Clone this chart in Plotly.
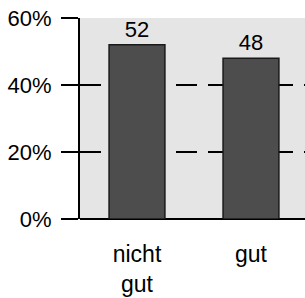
import plotly.graph_objects as go

categories = ["nicht<br>gut", "gut"]
values = [52, 48]
tick_vals = [0, 20, 40, 60]
tick_text = ["0%", "20%", "40%", "60%"]

fig = go.Figure()
fig.add_trace(go.Bar(
    x=categories, y=values, width=0.49,
    marker=dict(color="#4d4d4d", line=dict(color="#1a1a1a", width=1.5)),
    text=[str(v) for v in values], textposition="outside",
    textfont=dict(size=22, color="black"), cliponaxis=False,
))
fig.update_layout(
    width=305, height=298,
    margin=dict(l=80, r=0, t=18, b=79),
    paper_bgcolor="white", plot_bgcolor="#e5e5e5",
    font=dict(family="Liberation Sans, Arial, sans-serif", size=23, color="black"),
    showlegend=False,
)
fig.update_xaxes(range=[-0.5, 1.474], showgrid=False, showline=False, ticks="",
                 tickfont=dict(size=23), ticklabelstandoff=19)
fig.update_yaxes(range=[0, 60], tickvals=tick_vals, ticktext=tick_text,
                 showgrid=True, gridcolor="black", gridwidth=2, griddash="21px,11px",
                 showline=True, linecolor="black", linewidth=2,
                 ticks="outside", ticklen=17, tickwidth=2, tickcolor="black",
                 zeroline=True, zerolinecolor="black", zerolinewidth=2,
                 tickfont=dict(size=22), ticklabelstandoff=5)
fig.write_html("out.html", config={"displayModeBar": False},
               post_script="document.body.style.margin='0';")
